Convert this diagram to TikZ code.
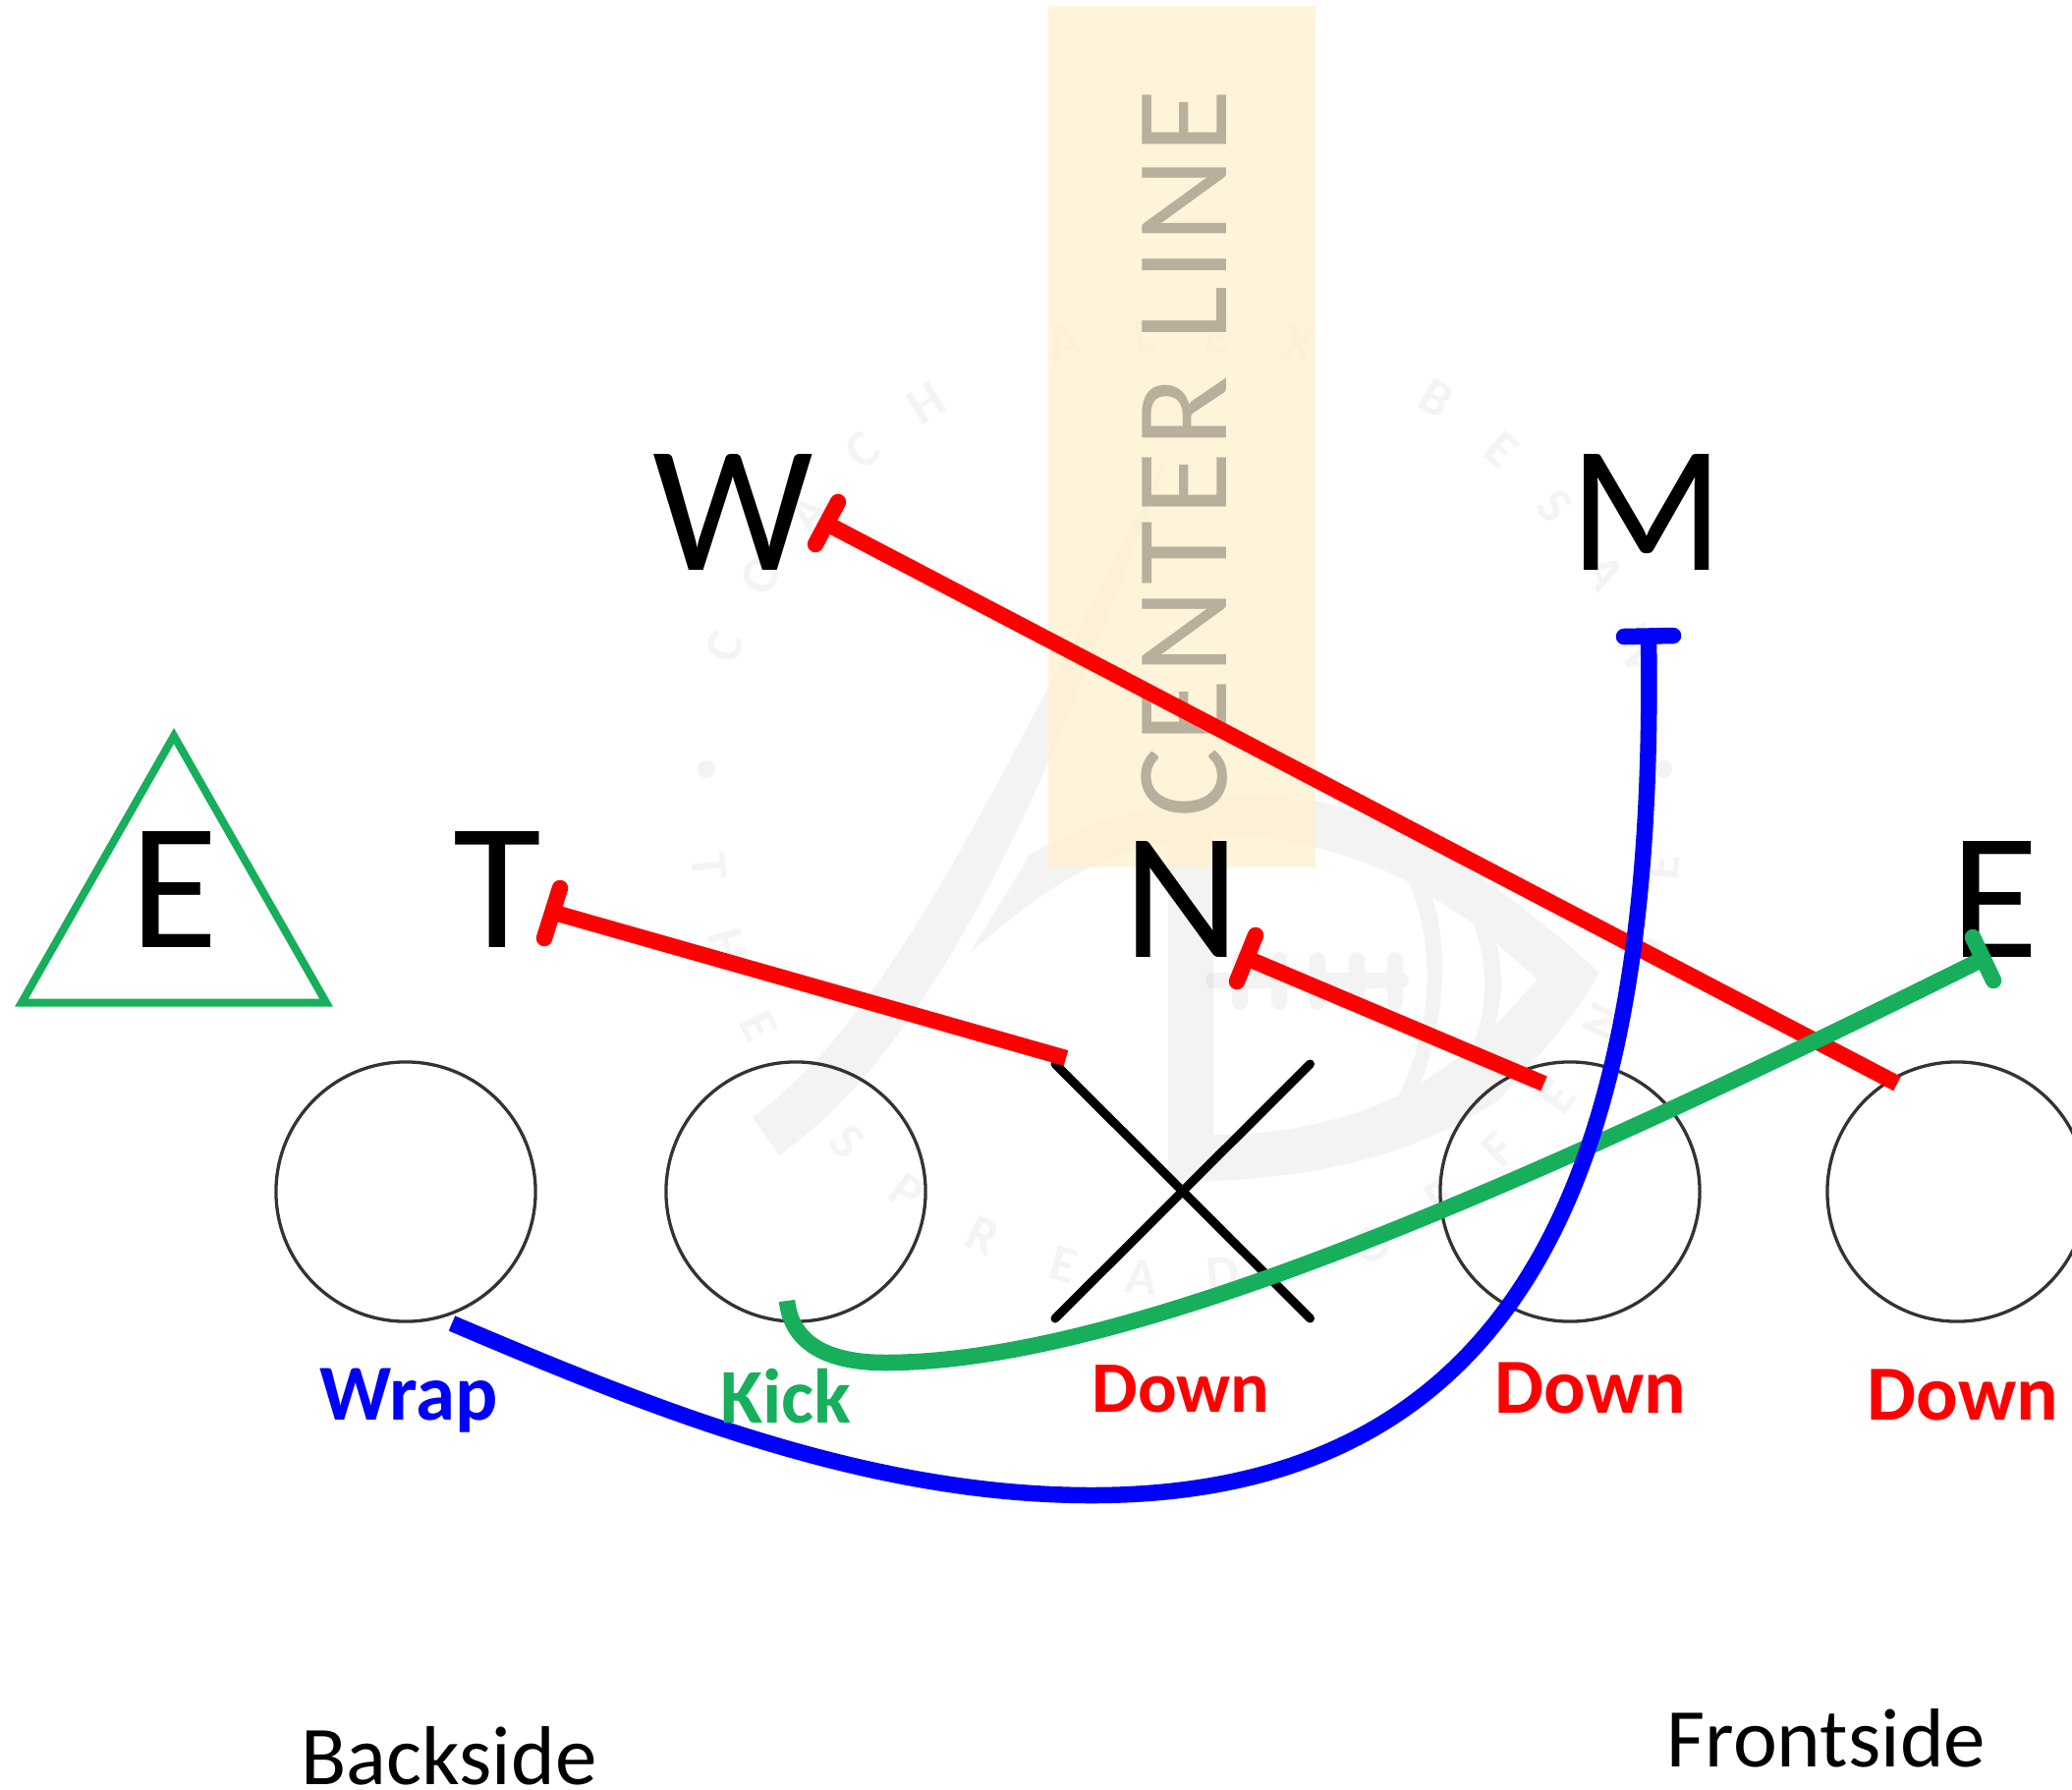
\documentclass[tikz,border=0pt]{standalone}
\usepackage{fontspec}
\setmainfont{Carlito}
\definecolor{cream}{HTML}{FFF2D3}
\definecolor{cline}{HTML}{B8B09D}
\definecolor{grn}{HTML}{17AF5C}
\definecolor{redl}{HTML}{FF0000}
\definecolor{bluel}{HTML}{0000FF}
\definecolor{ring}{HTML}{333333}
\newcommand{\bigf}{\fontsize{52.3pt}{60pt}\selectfont}
\tikzset{
  txt/.style={inner sep=0pt,outer sep=0pt,anchor=base},
  player/.style={txt,font=\bigf,text=black},
  tag/.style={txt,font=\fontsize{#1}{30pt}\selectfont\bfseries},
  side/.style={txt,font=\fontsize{24.2pt}{30pt}\selectfont,text=black},
  man/.style={circle,draw=ring,line width=0.033cm,minimum size=2.64cm,inner sep=0pt,outer sep=0pt},
  stem/.style={line width=0.163cm,line cap=butt},
  tee/.style={line width=0.165cm,line cap=round},
  wmark/.style={fill=black,fill opacity=0.047,draw=none},
  wlet/.style={inner sep=0pt,text=black,text opacity=0.045,font=\fontsize{15pt}{18pt}\selectfont\bfseries},
}
\begin{document}
\begin{tikzpicture}[x=0.01cm,y=-0.01cm]
\useasboundingbox (0,0) rectangle (2109,1821);
\clip (0,0) rectangle (2109,1821);
% watermark logo
\fill[wmark] (766,1137) .. controls (900,1040) and (1000,830) .. (1190,460)
  .. controls (1050,860) and (930,1080) .. (793,1176) -- cycle;
\fill[wmark,even odd rule]
  (987,970) .. controls (1030,900) and (1040,885) .. (1047,871)
  .. controls (1120,825) and (1230,800) .. (1339,815)
  .. controls (1430,835) and (1530,900) .. (1628,990)
  .. controls (1600,1040) and (1570,1070) .. (1525,1120)
  .. controls (1440,1175) and (1340,1203) .. (1189,1203)
  -- (1189,857) .. controls (1110,870) and (1050,915) .. (987,970) -- cycle
  (1235,850) -- (1235,1155) .. controls (1310,1155) and (1370,1140) .. (1424,1115)
  .. controls (1460,1040) and (1460,960) .. (1434,898)
  .. controls (1370,865) and (1300,850) .. (1235,850) -- cycle
  (1458,913) -- (1500,940) .. controls (1515,985) and (1515,1025) .. (1498,1067)
  -- (1446,1103) .. controls (1470,1040) and (1475,970) .. (1458,913) -- cycle
  (1523,960) -- (1565,997) -- (1521,1045) .. controls (1530,1015) and (1530,990) .. (1523,960) -- cycle;
\draw[draw=black,draw opacity=0.047,line width=0.16cm,line cap=round]
  (1235,998) -- (1426,998)
  (1262,977) -- (1262,1020) (1302,977) -- (1302,1020) (1341,977) -- (1341,1020)
  (1381,977) -- (1381,1020) (1420,977) -- (1420,1020);
\fill[wmark] (719,783) circle (9);
\fill[wmark] (1693,783) circle (9);
% watermark ring lettering
\foreach \ch/\px/\py/\sg [count=\k] in {
  C/737/658/1,O/775/585/1,A/823/523/1,C/878/458/1,H/943/410/1,
  A/1083/348/1,L/1165/342/1,E/1240/342/1,X/1322/350/1,
  B/1462/405/1,E/1528/458/1,S/1583/515/1,A/1633/583/1,W/1667/661/1,
  T/722/882/-1,H/740/963/-1,E/772/1045/-1,S/862/1162/-1,P/923/1213/-1,R/1000/1258/-1,
  E/1082/1287/-1,A/1162/1300/-1,D/1245/1297/-1,O/1397/1267/-1,F/1466/1220/-1,F/1525/1170/-1,
  E/1585/1117/-1,N/1632/1040/-1,S/1672/965/-1,E/1692/883/-1}{
  \pgfmathsetmacro{\rot}{atan2(\sg*(835-\py),\sg*(\px-1205))-90}
  \node[wlet,rotate=\rot] (wl\k) at (\px,\py) {\ch};
}
% centre band
\fill[cream,fill opacity=0.85] (1067,6) rectangle (1339,883);
% centre label
\node[txt,text=cline,rotate=90,font=\fontsize{38pt}{40pt}\selectfont\addfontfeature{LetterSpace=3.7}] (cl) at (1248,462) {CENTER LINE};
% offensive line
\node[man] (c1) at (413,1213) {};
\node[man] (c2) at (810,1213) {};
\node[man] (c4) at (1598,1213) {};
\node[man] (c5) at (1992,1213) {};
% X for the centre
\coordinate (xa) at (1074,1083);
\coordinate (xb) at (1333.5,1342);
\coordinate (xc) at (1333.5,1083);
\coordinate (xd) at (1074,1342);
\draw[line width=0.09cm,line cap=round] (xa) -- (xb);
\draw[line width=0.09cm,line cap=round] (xc) -- (xd);
% defenders
\node[player] (W) at (746,580) {W};
\node[player] (M) at (1676,580) {M};
\node[player] (N) at (1203,974) {N};
\node[player] (T) at (506,964) {T};
\node[player] (E2) at (2030,974) {E};
\node[player] (E1) at (177,964) {E};
% triangle
\coordinate (ta) at (177,749);
\coordinate (tb) at (22,1020.5);
\coordinate (tc) at (332,1020.5);
\draw[grn,line width=0.08cm,miter limit=10] (ta) -- (tb) -- (tc) -- cycle;
% red blocks
\coordinate (wT) at (841.5,533);
\coordinate (wA) at (853,511);
\coordinate (wB) at (830,554);
\coordinate (wS) at (1931,1103);
\draw[redl,stem] (wT) -- (wS);
\draw[redl,tee] (wA) -- (wB);
\coordinate (tT) at (561,928);
\coordinate (tA) at (570,904);
\coordinate (tB) at (554,955);
\coordinate (tS) at (1085,1077);
\draw[redl,stem] (tT) -- (tS);
\draw[redl,tee] (tA) -- (tB);
\coordinate (nT) at (1268.5,975);
\coordinate (nA) at (1278,952);
\coordinate (nB) at (1259,999);
\coordinate (nS) at (1571.5,1103);
\draw[redl,stem] (nT) -- (nS);
\draw[redl,tee] (nA) -- (nB);
% green kick
\coordinate (gS) at (801,1324);
\coordinate (gM) at (901,1387);
\coordinate (gT) at (2018.5,976);
\coordinate (gA) at (2008,954);
\coordinate (gB) at (2029,998);
\draw[grn,line width=0.165cm] (gS) .. controls (806,1372) and (850,1387) .. (gM)
   .. controls (1130,1387) and (1500,1234) .. (gT);
\draw[grn,tee] (gA) -- (gB);
% blue wrap
\coordinate (bT) at (1678,648);
\coordinate (bA) at (1653,648);
\coordinate (bB) at (1703,647);
\coordinate (bM) at (1111,1522);
\coordinate (bS) at (460,1347);
\draw[bluel,line width=0.165cm] (bS) .. controls (660,1432) and (880,1522) .. (bM)
   .. controls (1600,1522) and (1685,1100) .. (bT);
\draw[bluel,tee] (bA) -- (bB);
% labels
\node[tag=23pt,text=bluel] (lw) at (416.5,1445) {Wrap};
\node[tag=22.4pt,text=grn] (lk) at (800,1448) {Kick};
\node[tag=21pt,text=redl] (ld1) at (1202,1437) {Down};
\node[tag=22.6pt,text=redl] (ld2) at (1619,1438) {Down};
\node[tag=22.6pt,text=redl] (ld3) at (1997.5,1445) {Down};
\node[side] (bs) at (457,1816) {Backside};
\node[side] (fs) at (1859,1798) {Frontside};
\end{tikzpicture}
\end{document}
